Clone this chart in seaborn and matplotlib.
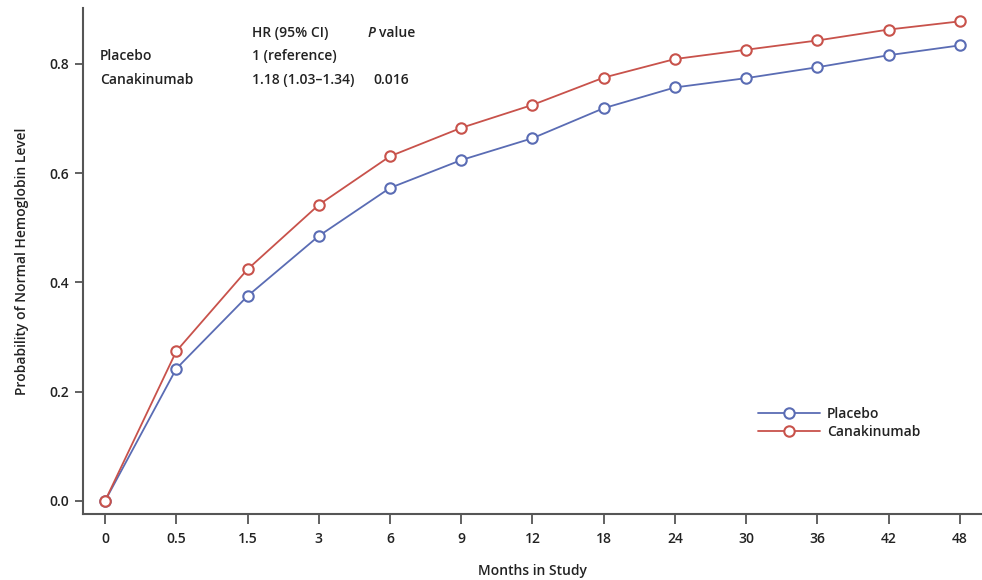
import matplotlib
matplotlib.use("Agg")
import matplotlib.pyplot as plt
from matplotlib.lines import Line2D
import seaborn as sns
import pandas as pd

months = ["0", "0.5", "1.5", "3", "6", "9", "12", "18", "24", "30", "36", "42", "48"]
placebo = [0.0, 0.242, 0.375, 0.485, 0.573, 0.624, 0.664, 0.719, 0.757, 0.774, 0.794, 0.816, 0.834]
canakinumab = [0.0, 0.274, 0.424, 0.542, 0.631, 0.683, 0.725, 0.775, 0.809, 0.826, 0.843, 0.863, 0.878]
groups = ["Placebo", "Canakinumab"]
colors = {"Placebo": "#5a6cb4", "Canakinumab": "#c8524b"}
yticks = [0.0, 0.2, 0.4, 0.6, 0.8]

df = pd.DataFrame({
    "Month": months * 2,
    "Prob": placebo + canakinumab,
    "Group": ["Placebo"] * len(months) + ["Canakinumab"] * len(months),
})

sns.set_style("ticks")
plt.rcParams["font.family"] = ["Open Sans", "DejaVu Sans"]
txt = "#222222"

fig = plt.figure(figsize=(9.82, 5.80), dpi=100)
ax = fig.add_axes([0.0845, 0.1138, 0.9155, 0.872])

sns.pointplot(data=df, x="Month", y="Prob", hue="Group", order=months,
              hue_order=groups, palette=colors, markers="o", dodge=False,
              errorbar=None, legend=False, ax=ax,
              markerfacecolor="white", markersize=7.5, markeredgewidth=1.5,
              linewidth=1.3)
for l in ax.lines:
    l.set_markerfacecolor("white")

ax.set_xlim(-0.31, 12.31)
ax.set_ylim(-0.024, 0.902)
ax.set_yticks(yticks)
ax.set_yticklabels([f"{v:.1f}" for v in yticks])

for s in ["top", "right"]:
    ax.spines[s].set_visible(False)
for s in ["left", "bottom"]:
    ax.spines[s].set_color("#555555")
    ax.spines[s].set_linewidth(1.5)
ax.tick_params(axis="both", direction="out", width=1.3, color="#555555",
               labelsize=10, labelcolor=txt, bottom=True, left=True)
ax.tick_params(axis="x", length=7, pad=6)
ax.tick_params(axis="y", length=6, pad=4)
for lab in ax.get_xticklabels() + ax.get_yticklabels():
    lab.set_fontweight("semibold")

ax.set_xlabel("Months in Study", fontsize=10, fontweight="semibold", color=txt, labelpad=13)
ax.set_ylabel("Probability of Normal Hemoglobin Level", fontsize=10, fontweight="semibold",
              color=txt, labelpad=15)

# table text
kw = dict(fontsize=10, fontweight="semibold", color=txt, transform=fig.transFigure, va="center")
def fx(px): return px / 982
def fy(py): return 1 - py / 580
fig.text(fx(252), fy(33), "HR (95% CI)", **kw)
fig.text(fx(368), fy(33), "P", fontstyle="italic", **kw)
fig.text(fx(379), fy(33), "value", **kw)
fig.text(fx(100), fy(56), "Placebo", **kw)
fig.text(fx(252), fy(56), "1 (reference)", **kw)
fig.text(fx(100), fy(80), "Canakinumab", **kw)
fig.text(fx(252), fy(80), "1.18 (1.03\u20131.34)", **kw)
fig.text(fx(373), fy(80), "0.016", **kw)

handles = [Line2D([], [], color=colors[g], marker="o", markerfacecolor="white",
                  markeredgewidth=1.5, markersize=7.5, linewidth=1.3) for g in groups]
leg = ax.legend(handles, groups, loc="upper left", bbox_to_anchor=(fx(745), fy(394)),
                bbox_transform=fig.transFigure, frameon=False, handlelength=4.5,
                handletextpad=0.5, labelspacing=0.3, fontsize=10)
for t in leg.get_texts():
    t.set_fontweight("semibold")
    t.set_color(txt)

fig.savefig("out.png", dpi=100, facecolor="white")
